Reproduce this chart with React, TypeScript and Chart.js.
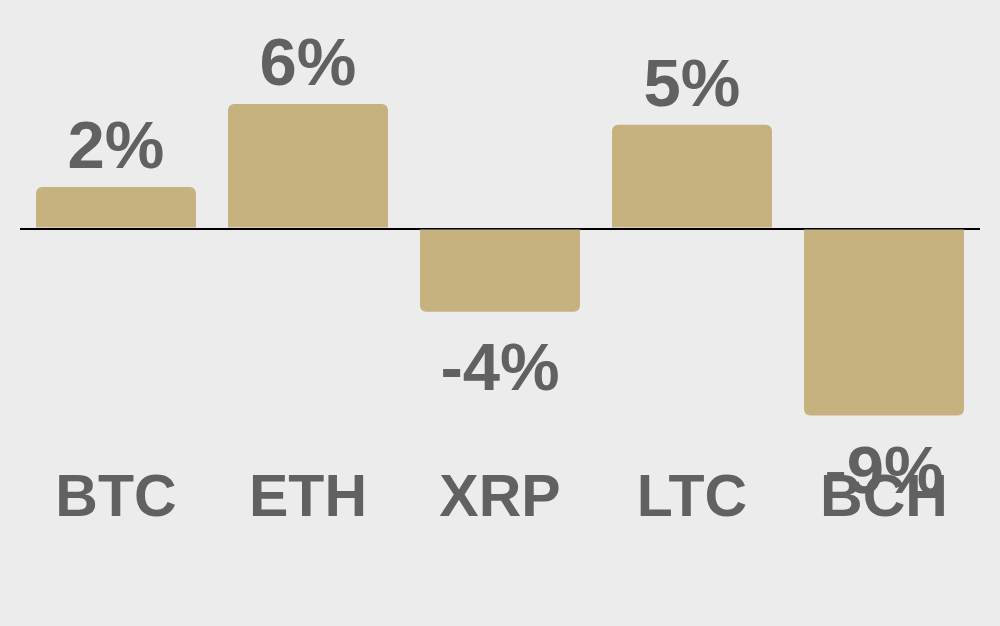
import React, { useEffect, useRef } from "react";
import { Chart, Plugin, registerables } from "chart.js";

Chart.register(...registerables);

// coins and their change in percent
const coins: string[] = ["BTC", "ETH", "XRP", "LTC", "BCH"];
const changes: number[] = [2, 6, -4, 5, -9];

const FONT = '"Liberation Sans", Arial, sans-serif';
const TEXT_COLOR = "#616161";

// draws the "2%" style labels above / below each bar
const valueLabels: Plugin<"bar"> = {
  id: "valueLabels",
  afterDatasetsDraw(chart) {
    const ctx = chart.ctx;
    const meta = chart.getDatasetMeta(0);
    ctx.save();
    ctx.font = `bold 67px ${FONT}`;
    ctx.fillStyle = TEXT_COLOR;
    ctx.textAlign = "center";
    ctx.textBaseline = "alphabetic";
    meta.data.forEach((bar, i) => {
      const v = changes[i];
      const y = v >= 0 ? bar.y - 19 : bar.y + 78;
      ctx.fillText(`${v}%`, bar.x, y);
    });
    ctx.restore();
  },
};

const App = () => {
  const canvasRef = useRef<HTMLCanvasElement | null>(null);

  useEffect(() => {
    if (!canvasRef.current) return;
    const chart = new Chart(canvasRef.current, {
      type: "bar",
      data: {
        labels: coins,
        datasets: [
          {
            data: changes,
            backgroundColor: "#c5b27e",
            borderRadius: 6,
            barPercentage: 0.833,
            categoryPercentage: 1,
          },
        ],
      },
      options: {
        animation: false,
        responsive: true,
        maintainAspectRatio: false,
        layout: { padding: { left: 20, right: 20, top: 21, bottom: 71 } },
        plugins: {
          legend: { display: false },
          tooltip: { enabled: false },
        },
        scales: {
          x: {
            grid: { display: false },
            border: { display: false },
            ticks: {
              color: TEXT_COLOR,
              padding: 20,
              font: { family: FONT, size: 59, weight: "bold" },
            },
          },
          y: {
            min: -10,
            max: 10,
            border: { display: false },
            ticks: { display: false, stepSize: 10 },
            grid: {
              drawTicks: false,
              lineWidth: 2,
              color: (c) => (c.tick && c.tick.value === 0 ? "#000000" : "rgba(0,0,0,0)"),
            },
          },
        },
      },
      plugins: [valueLabels],
    });
    return () => chart.destroy();
  }, []);

  return (
    <div
      style={{
        position: "fixed",
        left: 0,
        top: 0,
        width: 1000,
        height: 626,
        background: "#ececec",
      }}
    >
      <canvas ref={canvasRef}></canvas>
    </div>
  );
};

export default App;
